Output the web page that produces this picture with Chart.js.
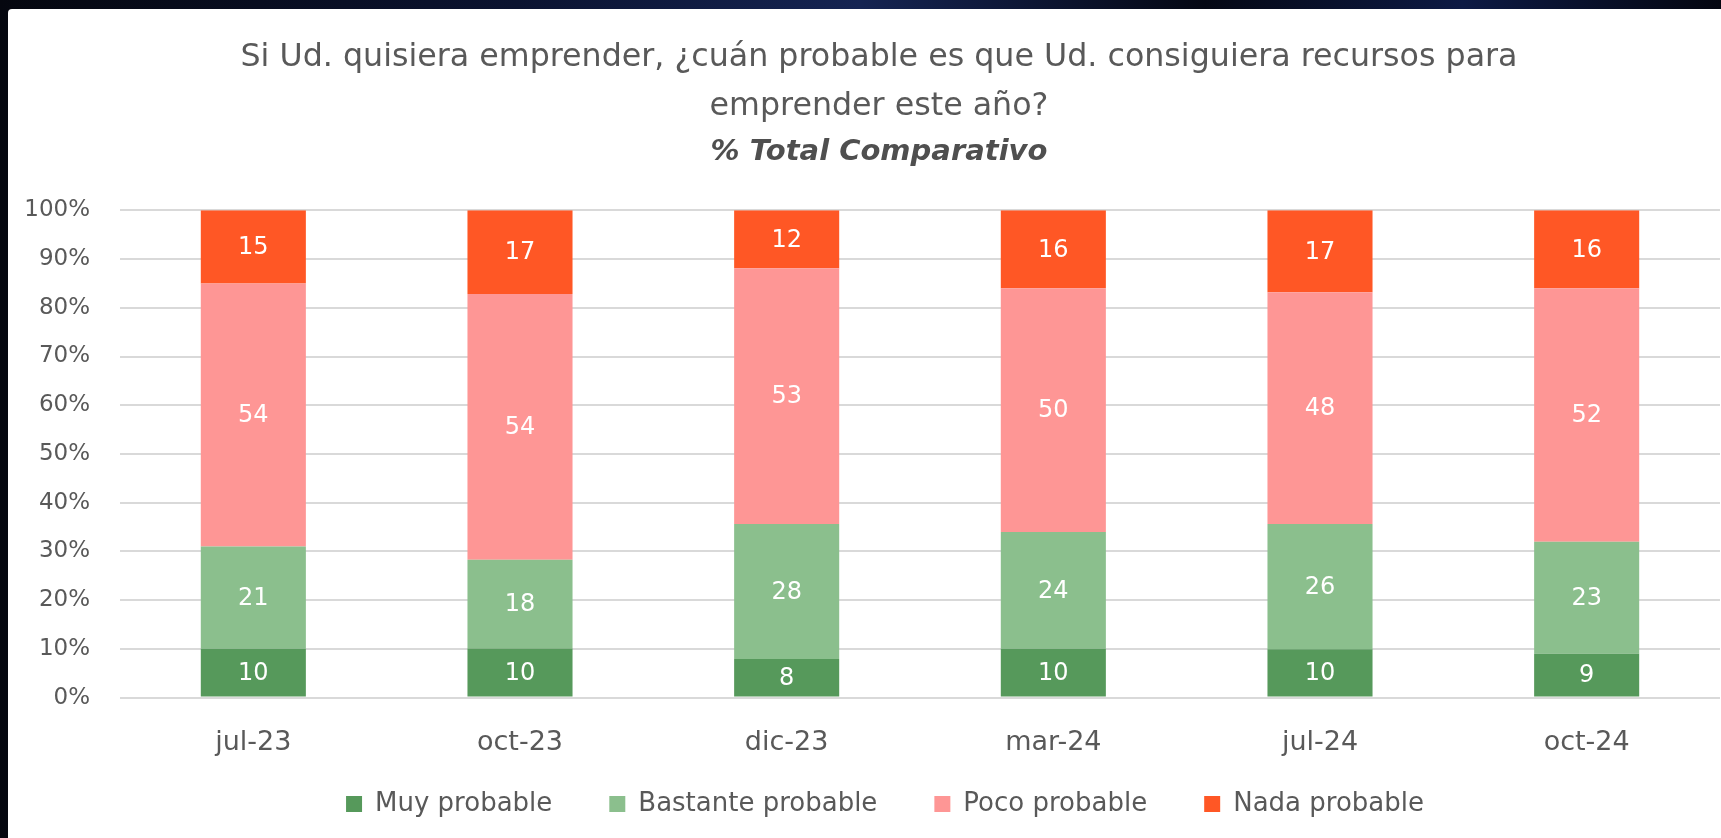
<!DOCTYPE html>
<html>
<head>
<meta charset="utf-8">
<script src="https://cdn.jsdelivr.net/npm/chart.js@4.4.1/dist/chart.umd.min.js"></script>
<style>
    html, body { margin: 0; padding: 0; overflow: hidden; }
    body {
        width: 1721px; height: 838px;
        background: linear-gradient(90deg, #05070f 0%, #0b1330 30%, #152452 50%, #050814 70%, #0d1a44 85%, #040610 100%);
    }
    #panel {
        position: absolute; left: 8px; top: 9px;
        width: 1713px; height: 880px;
        background: #ffffff;
        border-top-left-radius: 4px;
    }
</style>
</head>
<body>
<div id="panel"><canvas id="chart" width="1713" height="880"></canvas></div>
<script>
    // Categories and series (values as shown in the labels)
    var periods = ['jul-23', 'oct-23', 'dic-23', 'mar-24', 'jul-24', 'oct-24'];
    var muyProbable = [10, 10, 8, 10, 10, 9];
    var bastanteProbable = [21, 18, 28, 24, 26, 23];
    var pocoProbable = [54, 54, 53, 50, 48, 52];
    var nadaProbable = [15, 17, 12, 16, 17, 16];
    var yTicks = [0, 10, 20, 30, 40, 50, 60, 70, 80, 90, 100];

    var series = [
        { label: 'Muy probable', values: muyProbable, color: '#56995b' },
        { label: 'Bastante probable', values: bastanteProbable, color: '#8bbf8d' },
        { label: 'Poco probable', values: pocoProbable, color: '#fe9695' },
        { label: 'Nada probable', values: nadaProbable, color: '#ff5725' }
    ];

    // 100% stacked: share of each period's total
    var totals = periods.map(function (p, i) {
        return series.reduce(function (s, d) { return s + d.values[i]; }, 0);
    });

    var font = '"DejaVu Sans", sans-serif';
    var textColor = '#595959';

    // draws the value in the middle of each segment
    var segmentLabels = {
        id: 'segmentLabels',
        afterDatasetsDraw: function (chart) {
            var ctx = chart.ctx;
            ctx.save();
            ctx.font = '24px ' + font;
            ctx.fillStyle = '#ffffff';
            ctx.textAlign = 'center';
            ctx.textBaseline = 'middle';
            chart.data.datasets.forEach(function (ds, di) {
                chart.getDatasetMeta(di).data.forEach(function (bar, i) {
                    ctx.fillText(ds.shown[i], bar.x, (bar.y + bar.base) / 2 + 1);
                });
            });
            ctx.restore();
        }
    };

    // titles sit a bit right of centre; legend keeps wide gaps but sits closer to the axis
    var nudgeBoxes = {
        id: 'nudgeBoxes',
        afterLayout: function (chart) {
            chart.boxes.forEach(function (b) {
                if (b.position === 'top') { b.left += 15; b.right += 15; }
            });
            var lg = chart.legend;
            lg.top -= 54; lg.bottom -= 54;
            lg.left += 21; lg.right += 21;
        }
    };

    var ctx = document.getElementById('chart').getContext('2d');

    var chart = new Chart(ctx, {
        type: 'bar',
        data: {
            labels: periods,
            datasets: series.map(function (s) {
                return {
                    label: s.label,
                    data: s.values.map(function (v, i) { return v / totals[i] * 100; }),
                    shown: s.values,
                    backgroundColor: s.color,
                    borderWidth: 0,
                    barPercentage: 0.394,
                    categoryPercentage: 1
                };
            })
        },
        options: {
            responsive: false,
            animation: false,
            layout: { padding: { left: 0, right: 1, top: 0, bottom: 8 } },
            scales: {
                x: {
                    stacked: true,
                    grid: { display: false, drawTicks: false },
                    border: { display: false },
                    ticks: { color: textColor, font: { family: font, size: 27 }, padding: 29 }
                },
                y: {
                    stacked: true,
                    min: 0,
                    max: 100,
                    afterBuildTicks: function (scale) {
                        scale.ticks = yTicks.map(function (v) { return { value: v }; });
                    },
                    afterFit: function (scale) { scale.width = 112; },
                    grid: { color: '#d9d9d9', lineWidth: 2, drawTicks: false },
                    border: { display: false },
                    ticks: {
                        color: textColor,
                        font: { family: font, size: 23 },
                        padding: 30,
                        callback: function (v) { return v + '%'; }
                    }
                }
            },
            plugins: {
                title: {
                    display: true,
                    text: ['Si Ud. quisiera emprender, ¿cuán probable es que Ud. consiguiera recursos para', 'emprender este año?'],
                    color: textColor,
                    font: { family: font, size: 31.7, weight: 'normal', lineHeight: 1.545 },
                    padding: { top: 24, bottom: 5 }
                },
                subtitle: {
                    display: true,
                    text: '% Total Comparativo',
                    color: '#4f4f4f',
                    font: { family: font, size: 29, weight: 'bold', style: 'italic', lineHeight: 1.117 },
                    padding: { top: 0, bottom: 42 }
                },
                legend: {
                    position: 'bottom',
                    labels: {
                        color: textColor,
                        font: { family: font, size: 26 },
                        boxWidth: 16,
                        boxHeight: 16,
                        padding: 57
                    }
                },
                tooltip: { enabled: false }
            }
        },
        plugins: [segmentLabels, nudgeBoxes]
    });
</script>
</body>
</html>
